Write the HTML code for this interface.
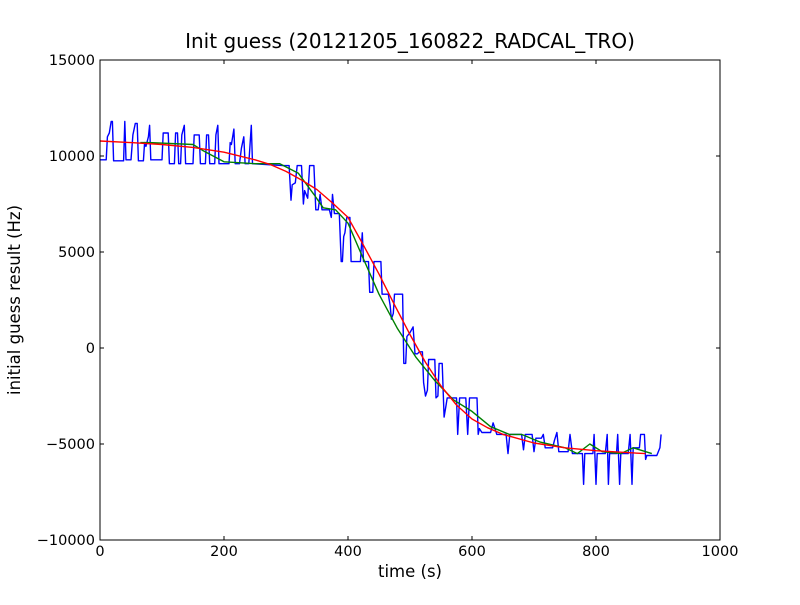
<!DOCTYPE html>
<html><head><meta charset="utf-8"><style>
body{margin:0;background:#fff;}
svg text{font-family:"DejaVu Sans","Liberation Sans",sans-serif;}
</style></head><body>
<svg id="chart" width="800" height="600" xmlns="http://www.w3.org/2000/svg">
<rect width="800" height="600" fill="#fff"/>
<text x="410" y="48" font-size="20" text-anchor="middle">Init guess (20121205_160822_RADCAL_TRO)</text>
<text x="410" y="577" font-size="16.5" text-anchor="middle">time (s)</text>
<text x="20" y="300" font-size="16.5" text-anchor="middle" transform="rotate(-90 20 300)">initial guess result (Hz)</text>
<g id="plot"></g>
<rect x="100" y="60" width="620" height="480" fill="none" stroke="#000" stroke-width="1"/>
<g id="ticks"></g>
</svg>
<script>
const xTicks=[0,200,400,600,800,1000];
const yTicks=[-10000,-5000,0,5000,10000,15000];
const yTickLabels=["\u221210000","\u22125000","0","5000","10000","15000"];
const blueT=[0,10,12,15,18,20,22,38,40,42,50,53,57,60,62,70,72,74,78,80,82,100,102,110,112,120,122,125,127,130,132,136,138,150,152,160,162,170,172,175,177,185,187,190,192,208,210,212,216,218,225,228,232,234,240,244,246,295,305,308,310,315,318,325,328,330,335,338,345,348,352,355,358,370,373,375,378,386,389,391,393,395,398,403,405,420,423,425,433,435,440,442,453,455,465,468,470,473,475,488,490,493,495,500,505,508,512,515,520,522,525,528,530,540,542,545,547,552,555,558,560,575,577,580,590,593,596,608,610,612,616,630,634,640,655,658,661,680,683,686,697,700,703,712,715,718,730,733,737,740,755,758,762,778,780,782,795,797,800,802,815,818,820,822,833,835,838,840,852,855,858,860,870,872,878,880,882,898,903,905];
const blueV=[9800,9800,11000,11200,11800,11800,9750,9750,11800,9800,9800,11100,11700,11700,9750,9750,10700,10500,11000,11600,9800,9800,11200,11200,9600,9600,11200,11200,9600,9600,11100,11600,9600,9600,11100,11100,9600,9600,11100,11100,9600,9600,11100,11600,9600,9600,10700,10600,11400,9600,9600,10400,11000,9600,9600,11600,9600,9500,9500,7700,8500,8600,9500,9500,7500,8200,7800,9500,9500,7200,7200,8000,7200,7200,6800,8000,7000,7000,4500,4500,5800,6000,6800,6800,4500,4500,6000,4500,4500,2900,2900,4500,4500,2800,2800,2200,1500,1800,2800,2800,-800,-800,600,800,1100,-300,-300,-200,-200,-1800,-2500,-2200,-600,-600,-2600,-2500,-800,-800,-3600,-3000,-2600,-2600,-4500,-2600,-2600,-4500,-2600,-2600,-4500,-4200,-4400,-4400,-3900,-4500,-4500,-5500,-4500,-4500,-5300,-4500,-4500,-5400,-4700,-4700,-4500,-5200,-5200,-4800,-4400,-5400,-5400,-4500,-5500,-5500,-7100,-5500,-5500,-4500,-7100,-5500,-5500,-4500,-7100,-5500,-5500,-4500,-7100,-5500,-5500,-4500,-7100,-5200,-5200,-4500,-4500,-5800,-5600,-5600,-5200,-4500];
const greenT=[65,80,150,165,200,250,290,320,345,360,380,400,420,450,480,510,540,570,600,630,660,680,710,750,770,790,810,840,860,890];
const greenV=[10700,10700,10600,10300,9700,9600,9600,9100,8000,7300,7200,6500,5000,2800,1000,-500,-1700,-2700,-3300,-4100,-4500,-4500,-4900,-5200,-5500,-5000,-5400,-5500,-5200,-5500];
const redT=[0,50,100,150,200,250,275,300,325,350,375,400,425,450,475,500,525,550,575,600,625,650,700,750,800,850,880];
const redV=[10780,10700,10600,10450,10200,9800,9550,9200,8750,8250,7550,6800,5350,3850,2250,700,-750,-1980,-2970,-3700,-4150,-4500,-4950,-5200,-5350,-5450,-5500];
const NS="http://www.w3.org/2000/svg";
function xs(t){return 100+t/1000*620;}
function ys(v){return 540-(v+10000)/25000*480;}
const plot=document.getElementById('plot');
function line(T,V,color,name){
  const p=document.createElementNS(NS,'polyline');
  p.setAttribute('points',T.map((t,i)=>xs(t).toFixed(1)+','+ys(V[i]).toFixed(1)).join(' '));
  p.setAttribute('fill','none');p.setAttribute('stroke',color);p.setAttribute('stroke-width','1.4');
  p.setAttribute('stroke-linejoin','round');
  
  
  plot.appendChild(p);
}
line(blueT,blueV,'#0000ff','blue-series');
line(greenT,greenV,'#008000','green-series');
line(redT,redV,'#ff0000','red-series');
const tk=document.getElementById('ticks');
function mk(tag,attrs){const e=document.createElementNS(NS,tag);for(const k in attrs)e.setAttribute(k,attrs[k]);tk.appendChild(e);return e;}
xTicks.forEach(t=>{
  const x=xs(t);
  const a=mk('line',{x1:x,x2:x,y1:540,y2:536,stroke:'#000'});
  
  
  const b=mk('line',{x1:x,x2:x,y1:60,y2:64,stroke:'#000'});
  
  
  const l=mk('text',{x:x,y:556,'font-size':14.5,'text-anchor':'middle'});
  l.textContent=String(t);
  
  
});
yTicks.forEach((v,i)=>{
  const y=ys(v);
  const a=mk('line',{x1:100,x2:104,y1:y,y2:y,stroke:'#000'});
  
  
  const b=mk('line',{x1:716,x2:720,y1:y,y2:y,stroke:'#000'});
  
  
  const l=mk('text',{x:95,y:y+5,'font-size':14.5,'text-anchor':'end'});
  l.textContent=yTickLabels[i];
  
  
});
</script>
</body></html>
